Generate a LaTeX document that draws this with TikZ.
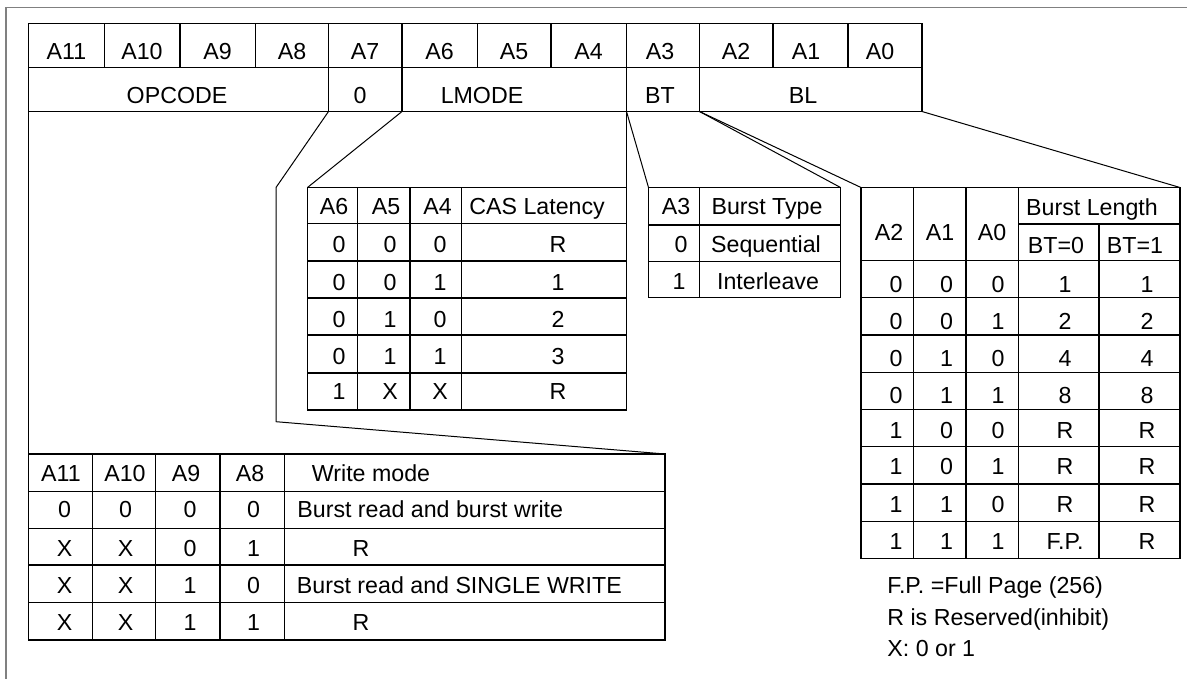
\documentclass[tikz,border=0pt]{standalone}
\usepackage{fontspec}
\setmainfont{Liberation Sans}

\tikzset{
	cell/.style={inner sep=0pt, text height=8.3pt, text depth=0pt},
	tbl/.style={line width=0.65pt},
	link/.style={line width=0.5pt},
	outerframe/.style={line width=0.75pt, draw=black!50}
}

\begin{document}
\begin{tikzpicture}[x=0.5pt,y=-0.5pt,font=\fontsize{11.6}{14}\selectfont]
	\useasboundingbox (0,0) rectangle (1187,679);
	\draw[outerframe] (6,679) -- (6,7.5) -- (1187,7.5);

	% register
	\draw[tbl] (28.5,23.5) rectangle (922,111.5);
	\draw[tbl] (28.5,67.5) -- (922,67.5);
	\foreach \x in {104.5,180,255.5,477.5,551,773,848}
		\draw[tbl] (\x,23.5) -- (\x,67.5);
	\foreach \x in {328.5,402,626.5,699.5}
		\draw[tbl] (\x,23.5) -- (\x,111.5);
	\foreach \t/\x [count=\i] in {A11/66.5,A10/142,A9/217.5,A8/292,A7/365,A6/439.5,A5/514,A4/588.5,A3/660,A2/736,A1/806,A0/880}
		\node[cell] (bit\i) at (\x,51) {\t};
	\node[cell] (opcode) at (177,95) {OPCODE};
	\node[cell] (zero) at (360,95) {0};
	\node[cell] (lmode) at (482,95) {LMODE};
	\node[cell] (btype) at (660,95) {BT};
	\node[cell] (blen) at (803,95) {BL};
	\coordinate (opcode-sw) at (28.5,111.5);
	\coordinate (zero-sw) at (328.5,111.5);
	\coordinate (lmode-sw) at (402,111.5);
	\coordinate (lmode-se) at (626.5,111.5);
	\coordinate (bl-sw) at (699.5,111.5);
	\coordinate (bl-se) at (922,111.5);

	% CAS latency
	\draw[tbl] (307.5,187.5) rectangle (626.5,410);
	\foreach \y in {223.5,261,298,335,373}
		\draw[tbl] (307.5,\y) -- (626.5,\y);
	\foreach \x in {357.5,410,461.5}
		\draw[tbl] (\x,187.5) -- (\x,410);
	\node[cell] (cas-a6) at (334,206) {A6};
	\node[cell] (cas-a5) at (386,206) {A5};
	\node[cell] (cas-a4) at (437.5,206) {A4};
	\node[cell, anchor=west] (cas-head) at (469,206) {CAS Latency};
	\foreach \a/\b/\c/\v/\y [count=\i] in {0/0/0/R/244.5,0/0/1/1/282,0/1/0/2/319,0/1/1/3/356,1/X/X/R/391} {
		\node[cell] (cas\i-a) at (339,\y) {\a};
		\node[cell] (cas\i-b) at (390,\y) {\b};
		\node[cell] (cas\i-c) at (440,\y) {\c};
		\node[cell] (cas\i-v) at (558,\y) {\v};
	}
	\coordinate (cas-nw) at (307.5,187.5);
	\coordinate (cas-ne) at (626.5,187.5);

	% burst type
	\draw[tbl] (648.5,187.5) rectangle (840.5,297.5);
	\draw[tbl] (648.5,225) -- (840.5,225);
	\draw[tbl] (648.5,261.5) -- (840.5,261.5);
	\draw[tbl] (699.5,187.5) -- (699.5,297.5);
	\node[cell] (bt-a3) at (676,206) {A3};
	\node[cell] (bt-head) at (767,206) {Burst Type};
	\node[cell] (bt1-a) at (681,244) {0};
	\node[cell] (bt1-v) at (766,244) {Sequential};
	\node[cell] (bt2-a) at (679,281) {1};
	\node[cell] (bt2-v) at (768,281) {Interleave};
	\coordinate (bt-nw) at (648.5,187.5);
	\coordinate (bt-ne) at (840.5,187.5);

	% burst length
	\draw[tbl] (861,187.5) rectangle (1180,558.5);
	\draw[tbl] (1018.5,224) -- (1180,224);
	\foreach \y in {260.5,297.75,335,372.25,409.5,446.75,484,521.25}
		\draw[tbl] (861,\y) -- (1180,\y);
	\foreach \x in {913.5,966,1018.5}
		\draw[tbl] (\x,187.5) -- (\x,558.5);
	\draw[tbl] (1099,224) -- (1099,558.5);
	\node[cell] (bl-a2) at (889,232.5) {A2};
	\node[cell] (bl-a1) at (940,232.5) {A1};
	\node[cell] (bl-a0) at (992,232.5) {A0};
	\node[cell] (bl-head) at (1092,207) {Burst Length};
	\node[cell] (bl-bt0) at (1056,245) {BT=0};
	\node[cell] (bl-bt1) at (1135,245) {BT=1};
	\foreach \a/\b/\c/\u/\v/\y [count=\i] in {0/0/0/1/1/284,0/0/1/2/2/321,0/1/0/4/4/358,0/1/1/8/8/395,1/0/0/R/R/430,1/0/1/R/R/466.5,1/1/0/R/R/504,1/1/1/F.P./R/541} {
		\node[cell] (bl\i-a) at (896,\y) {\a};
		\node[cell] (bl\i-b) at (946.5,\y) {\b};
		\node[cell] (bl\i-c) at (998,\y) {\c};
		\node[cell] (bl\i-u) at (1065,\y) {\u};
		\node[cell] (bl\i-v) at (1147,\y) {\v};
	}
	\coordinate (bl-nw) at (861,187.5);
	\coordinate (bl-ne) at (1180,187.5);
	\node[cell, anchor=west] (note-fp) at (887,584.7) {F.P. =Full Page (256)};
	\node[cell, anchor=west] (note-r) at (887,616.8) {R is Reserved(inhibit)};
	\node[cell, anchor=west] (note-x) at (887,648.3) {X: 0 or 1};

	% write mode
	\draw[tbl] (28.5,454) rectangle (665,640);
	\foreach \y in {491.5,528.5,565,602.5}
		\draw[tbl] (28.5,\y) -- (665,\y);
	\foreach \x in {92.5,155.5,220,284.5}
		\draw[tbl] (\x,454) -- (\x,640);
	\node[cell] (wm-a11) at (61,473) {A11};
	\node[cell] (wm-a10) at (125,473) {A10};
	\node[cell] (wm-a9) at (186,473) {A9};
	\node[cell] (wm-a8) at (250,473) {A8};
	\node[cell, anchor=west] (wm-head) at (311.5,473) {Write mode};
	\foreach \a/\b/\c/\d/\y [count=\i] in {0/0/0/0/509.5,X/X/0/1/548.5,X/X/1/0/585.5,X/X/1/1/622.5} {
		\node[cell] (wm\i-a) at (64.5,\y) {\a};
		\node[cell] (wm\i-b) at (125.5,\y) {\b};
		\node[cell] (wm\i-c) at (190,\y) {\c};
		\node[cell] (wm\i-d) at (253.5,\y) {\d};
	}
	\node[cell, anchor=west] (wm1-v) at (297,509.5) {Burst read and burst write};
	\node[cell] (wm2-v) at (361,548.5) {R};
	\node[cell, anchor=west] (wm3-v) at (296.5,585.5) {Burst read and SINGLE WRITE};
	\node[cell] (wm4-v) at (361,622.5) {R};
	\coordinate (wm-nw) at (28.5,454);
	\coordinate (wm-ne) at (665,454);

	% links from the register to the tables
	\coordinate (bend-a) at (276,187.5);
	\coordinate (bend-b) at (276,421.7);
	\draw[link] (opcode-sw) -- (wm-nw);
	\draw[link] (zero-sw) -- (bend-a) -- (bend-b) -- (wm-ne);
	\draw[link] (lmode-sw) -- (cas-nw);
	\draw[link] (lmode-se) -- (cas-ne);
	\draw[link] (lmode-se) -- (bt-nw);
	\draw[link] (bl-sw) -- (bt-ne);
	\draw[link] (bl-sw) -- (bl-nw);
	\draw[link] (bl-se) -- (bl-ne);
\end{tikzpicture}
\end{document}
